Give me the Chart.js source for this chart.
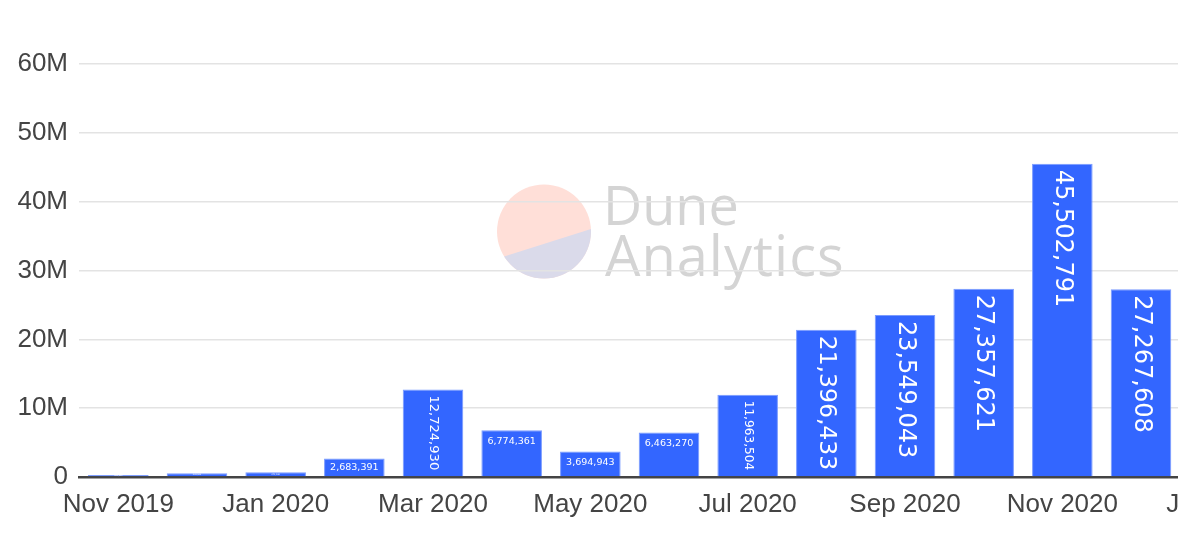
<!DOCTYPE html>
<html lang="en">
  <head>
    <meta charset="UTF-8" />
    <title>monthly volume</title>
    <script src="https://cdn.jsdelivr.net/npm/chart.js"></script>
    <style>
      html, body { margin: 0; padding: 0; background: #fff; overflow: hidden; }
      #wrap { width: 1259px; height: 546px; position: relative; }
    </style>
  </head>
  <body>
    <div id="wrap">
      <canvas id="grafico"></canvas>
    </div>

<script>
  // meses (o ultimo fica cortado na borda, como no original)
  const meses = [
    "Nov 2019", "Dec 2019", "Jan 2020", "Feb 2020", "Mar 2020", "Apr 2020",
    "May 2020", "Jun 2020", "Jul 2020", "Aug 2020", "Sep 2020", "Oct 2020",
    "Nov 2020", "Dec 2020", "Jan 2021"
  ];

  const volumes = [
    286455, 541066, 673148, 2683391, 12724930, 6774361,
    3694943, 6463270, 11963504, 21396433, 23549043, 27357621,
    45502791, 27267608, null
  ];

  const ticksY = [0, 10000000, 20000000, 30000000, 40000000, 50000000, 60000000];

  const corBarra = "#3366ff";
  const fonteEixo = "'Liberation Sans', Arial, sans-serif";
  const fonteValor = "'DejaVu Sans', Verdana, sans-serif";

  // marca d'agua
  const marcaDagua = {
    id: "marcaDagua",
    beforeDraw(chart) {
      const ctx = chart.ctx;
      ctx.save();
      const cx = 544, cy = 231.5, r = 47;
      ctx.beginPath();
      ctx.arc(cx, cy, r, 0, Math.PI * 2);
      ctx.fillStyle = "#ffdfd8";
      ctx.fill();
      // metade de baixo
      ctx.save();
      ctx.beginPath();
      ctx.arc(cx, cy, r, 0, Math.PI * 2);
      ctx.clip();
      ctx.beginPath();
      ctx.moveTo(480, 264);
      ctx.lineTo(610, 223);
      ctx.lineTo(610, 300);
      ctx.lineTo(480, 300);
      ctx.closePath();
      ctx.fillStyle = "#dadaea";
      ctx.fill();
      ctx.restore();

      ctx.fillStyle = "#d4d4d4";
      ctx.textBaseline = "alphabetic";
      ctx.textAlign = "left";
      ctx.font = "54px 'Open Sans', sans-serif";
      ctx.fillText("Dune", 603, 225);
      ctx.font = "56px 'Open Sans', sans-serif";
      ctx.letterSpacing = "1px";
      ctx.fillText("Analytics", 605, 276);
      ctx.letterSpacing = "0px";
      ctx.restore();
    }
  };

  // rotulos dentro das barras, encolhidos para caber
  const rotulos = {
    id: "rotulos",
    afterDatasetsDraw(chart) {
      const ctx = chart.ctx;
      const meta = chart.getDatasetMeta(0);
      const maxFonte = 24;
      const pad = 12;
      ctx.save();
      ctx.fillStyle = "#ffffff";
      meta.data.forEach(function (bar, i) {
        const v = volumes[i];
        if (v == null) return;
        const texto = v.toLocaleString("en-US");
        const w = bar.width;
        const topo = Math.min(bar.y, bar.base);
        const h = Math.abs(bar.base - bar.y);

        ctx.font = "100px " + fonteValor;
        const larguraUnit = ctx.measureText(texto).width / 100;

        const fH = Math.min(maxFonte, (w - pad) / larguraUnit, Math.max(h - 2, 2));
        const fV = Math.min(maxFonte, (h - pad) / larguraUnit, w - pad);

        if (fV > fH) {
          ctx.font = fV + "px " + fonteValor;
          ctx.save();
          ctx.translate(bar.x, topo + 6);
          ctx.rotate(Math.PI / 2);
          ctx.textAlign = "left";
          ctx.textBaseline = "middle";
          ctx.fillText(texto, 0, 0);
          ctx.restore();
        } else {
          const f = Math.max(fH, 2);
          ctx.font = f + "px " + fonteValor;
          ctx.textAlign = "center";
          ctx.textBaseline = "middle";
          ctx.fillText(texto, bar.x, topo + Math.min(6 + f / 2, h / 2));
        }
      });
      ctx.restore();
    }
  };

  const config = {
    type: "bar",
    data: {
      labels: meses,
      datasets: [
        {
          data: volumes,
          backgroundColor: corBarra,
          borderColor: "#7a9bff",
          borderWidth: 1,
          barPercentage: 0.77,
          categoryPercentage: 1.0
        }
      ]
    },
    options: {
      responsive: true,
      maintainAspectRatio: false,
      animation: false,
      layout: {
        padding: { top: 64, left: 0, right: 0, bottom: 0 }
      },
      plugins: {
        legend: { display: false },
        tooltip: { enabled: false }
      },
      scales: {
        x: {
          afterFit: function (scale) {
            scale.paddingLeft = 0;
            scale.paddingRight = 0;
            scale.height = 69;
          },
          grid: { display: false, drawTicks: false },
          border: { color: "#444444", width: 2.5 },
          ticks: {
            autoSkip: false,
            maxRotation: 0,
            padding: 12,
            color: "#444444",
            font: { size: 26, family: fonteEixo },
            callback: function (val, index) {
              return index % 2 === 0 ? meses[index] : "";
            }
          }
        },
        y: {
          min: 0,
          max: 60000000,
          afterFit: function (scale) {
            scale.width = 79;
          },
          afterBuildTicks: function (axis) {
            axis.ticks = ticksY.map(function (v) { return { value: v }; });
          },
          border: { display: false },
          grid: {
            drawTicks: false,
            lineWidth: 1.5,
            color: function (c) {
              return c.tick && c.tick.value === 0 ? "rgba(0,0,0,0)" : "#e3e3e3";
            }
          },
          ticks: {
            padding: 11,
            color: "#444444",
            font: { size: 26, family: fonteEixo },
            callback: function (v) {
              return v === 0 ? "0" : v / 1000000 + "M";
            }
          }
        }
      }
    },
    plugins: [marcaDagua, rotulos]
  };

  const grafico = new Chart(document.getElementById("grafico"), config);
</script>
  </body>
</html>
